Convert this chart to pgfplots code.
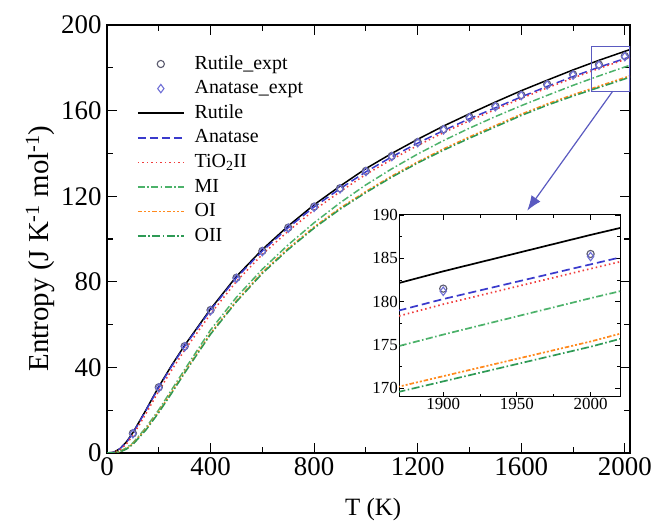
\documentclass[border=0pt]{standalone}
\usepackage{fontspec}
\setmainfont{Liberation Serif}
\usepackage{pgfplots}
\pgfplotsset{compat=1.18}
\usepackage{pgfplotstable}
\usetikzlibrary{arrows.meta}

\definecolor{cRexp}{HTML}{5A5A6E}
\definecolor{cAexp}{HTML}{6F6FD6}
\definecolor{cAna}{HTML}{3A3ACC}
\definecolor{cTio}{HTML}{F03C3C}
\definecolor{cMI}{HTML}{4CB26A}
\definecolor{cOI}{HTML}{FF8A1E}
\definecolor{cOII}{HTML}{2E9A55}
\definecolor{cBox}{HTML}{5A5AC0}

\pgfplotstableread{
T rut ana tio mi oi oii
0 0 0 0 0 0 0
25 0.3 0.3 0.2 0.1 0.1 0.1
50 2.0 2.0 1.5 0.8 0.6 0.5
75 5.2 5.0 4.2 2.4 2.0 1.8
100 9.5 9.2 8.2 4.7 4.3 4.0
150 20.0 19.8 18.3 11.8 11.1 10.7
200 31.0 30.7 29.0 20.2 19.3 18.9
250 41.0 40.6 38.8 29.6 28.5 28.0
300 50.3 49.9 48.1 39.0 37.8 37.4
400 67.3 66.8 65.0 57.5 55.9 55.5
500 82.5 81.9 80.2 72.8 71.1 70.7
600 95.1 94.4 92.8 85.9 84.4 83.9
700 106.1 105.3 103.7 97.3 95.6 95.1
800 116.0 115.0 113.5 107.6 105.6 105.1
900 124.7 123.5 122.1 116.9 114.4 113.9
1000 132.9 131.4 130.2 125.3 122.2 121.7
1100 140.0 138.4 137.2 132.8 129.4 128.9
1200 146.6 144.8 143.7 139.7 136.0 135.5
1300 152.8 150.7 149.7 146.0 142.1 141.5
1400 158.5 156.2 155.3 151.8 147.7 147.1
1500 164.0 161.3 160.5 157.2 153.0 152.4
1600 169.3 166.4 165.7 162.3 158.3 157.7
1700 174.2 171.3 170.6 167.1 163.1 162.5
1800 179.0 175.9 175.2 171.8 167.4 166.8
1900 183.5 180.3 179.7 176.2 171.4 170.8
2000 187.7 184.3 183.8 180.4 175.4 174.8
2020 188.5 185.1 184.6 181.2 176.3 175.7
}\calc

\pgfplotstableread{
T rexp aexp
100 9.2 9.0
200 30.7 30.4
300 49.9 49.6
400 66.8 66.5
500 81.9 81.6
600 94.4 94.1
700 105.3 105.0
800 115.1 114.8
900 123.7 123.4
1000 131.8 131.5
1100 138.8 138.5
1200 145.3 145.0
1300 151.3 151.0
1400 156.9 156.6
1500 162.1 161.8
1600 167.3 167.0
1700 172.3 172.0
1800 176.9 176.6
1900 181.5 181.2
2000 185.5 185.2
}\expt

\pgfplotsset{
  myleg/.style={legend image code/.code={\path[draw=none,fill=none] (0bp,-5bp) rectangle (46bp,5bp);\draw[mark repeat=2,mark phase=2,##1] plot coordinates {(0bp,0bp) (23bp,0bp) (46bp,0bp)};}},
  sRexp/.style={only marks, mark=o, mark size=3.6bp, color=cRexp, mark options={line width=1.1bp}},
  sAexp/.style={only marks, mark=diamond, mark size=4.2bp, color=cAexp, mark options={line width=1.1bp}},
  sRut/.style={no marks, black, line width=1.5bp},
  sAna/.style={no marks, cAna, line width=1.5bp, dash pattern=on 8bp off 4bp},
  sTio/.style={no marks, cTio, line width=1.5bp, dash pattern=on 1.5bp off 3bp},
  sMI/.style={no marks, cMI, line width=1.5bp, dash pattern=on 7bp off 2.5bp on 1.5bp off 2.5bp},
  sOI/.style={no marks, cOI, line width=1.6bp, dash pattern=on 4.5bp off 2bp on 2bp off 2bp on 2bp off 2bp},
  sOII/.style={no marks, cOII, line width=1.5bp, dash pattern=on 8bp off 2.5bp on 1.5bp off 2.5bp},
}

\begin{document}
\begin{tikzpicture}[x=1bp,y=1bp]
\useasboundingbox (0,0) rectangle (653,529);
\begin{axis}[
  at={(107bp,76bp)}, anchor=south west,
  width=523bp, height=428bp, scale only axis,
  xmin=0, xmax=2020, ymin=0, ymax=200,
  xtick={0,400,...,2000}, ytick={0,40,...,200},
  minor tick num=1, tick align=inside,
  major tick length=10bp, minor tick length=6bp,
  axis line style={line width=1.2bp}, tick style={line width=1.1bp, black},
  /pgf/number format/assume math mode=true,
  /pgf/number format/1000 sep={},
  tick label style={font=\fontsize{27}{31}\selectfont},
  xticklabel style={yshift=-1bp},
  yticklabel style={xshift=-2bp},
  xlabel={T (K)}, ylabel={Entropy (J K\textsuperscript{-1} mol\textsuperscript{-1})},
  every axis x label/.style={at={(axis description cs:0.509,-0.132)}, anchor=center, font=\fontsize{25}{29}\selectfont},
  every axis y label/.style={at={(axis description cs:-0.128,0.478)}, anchor=center, rotate=90, font=\fontsize{29}{33}\selectfont},
  legend style={at={(axis description cs:0.057,0.935)}, anchor=north west, draw=none, fill=none,
    font=\fontsize{20}{24}\selectfont, inner sep=0pt, row sep=2.6bp, column sep=8bp,
    nodes={inner sep=2bp, text height=14bp, text depth=4bp}},
  legend cell align=left,
]
\addplot[sRexp, myleg] table[x=T, y=rexp] {\expt};
\addlegendentry{Rutile\_expt}
\addplot[sAexp, myleg] table[x=T, y=aexp] {\expt};
\addlegendentry{Anatase\_expt}
\addplot[sRut, myleg] table[x=T, y=rut] {\calc};
\addlegendentry{Rutile}
\addplot[sAna, myleg] table[x=T, y=ana] {\calc};
\addlegendentry{Anatase}
\addplot[sTio, myleg] table[x=T, y=tio] {\calc};
\addlegendentry{TiO\textsubscript{2}II}
\addplot[sMI, myleg] table[x=T, y=mi] {\calc};
\addlegendentry{MI}
\addplot[sOI, myleg] table[x=T, y=oi] {\calc};
\addlegendentry{OI}
\addplot[sOII, myleg] table[x=T, y=oii] {\calc};
\addlegendentry{OII}
\draw[cBox, line width=1.2bp] (axis cs:1870,169) rectangle (axis cs:2020,190);
\coordinate (A) at (axis cs:1953,169);
\end{axis}

\begin{axis}[
  at={(399bp,132bp)}, anchor=south west,
  width=221bp, height=182bp, scale only axis,
  xmin=1870, xmax=2020, ymin=169, ymax=190,
  xtick={1900,1950,2000}, ytick={170,175,...,190},
  minor tick num=1, tick align=inside,
  major tick length=5bp, minor tick length=3bp,
  axis line style={line width=1bp}, tick style={line width=0.9bp, black},
  axis background/.style={fill=white},
  /pgf/number format/assume math mode=true,
  /pgf/number format/1000 sep={},
  tick label style={font=\fontsize{17}{20}\selectfont},
  yticklabel style={inner sep=1bp},
  xticklabel style={inner sep=1.5bp},
]
\addplot[sRut, line width=1.7bp] table[x=T, y=rut] {\calc};
\addplot[sAna, line width=1.7bp] table[x=T, y=ana] {\calc};
\addplot[sTio, line width=1.7bp] table[x=T, y=tio] {\calc};
\addplot[sMI, line width=1.7bp] table[x=T, y=mi] {\calc};
\addplot[sOI, line width=1.7bp] table[x=T, y=oi] {\calc};
\addplot[sOII, line width=1.7bp] table[x=T, y=oii] {\calc};
\addplot[sRexp] table[x=T, y=rexp] {\expt};
\addplot[sAexp] table[x=T, y=aexp] {\expt};
\coordinate (B) at (axis cs:1957,190.5);
\end{axis}
\draw[cBox, line width=1.2bp, -{Latex[length=15bp,width=11bp]}] (A) -- (B);
\end{tikzpicture}
\end{document}
